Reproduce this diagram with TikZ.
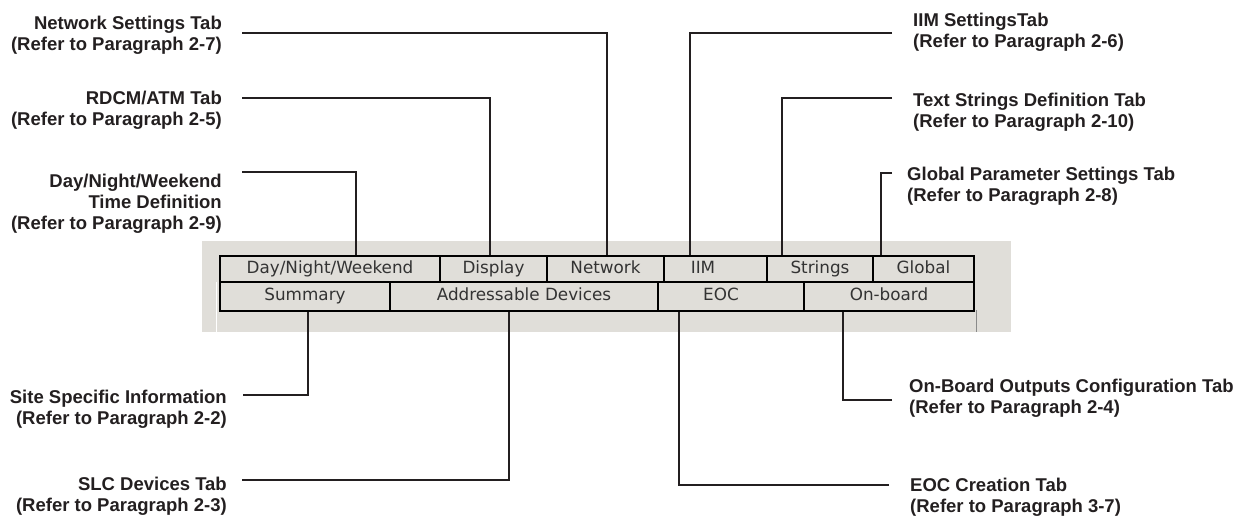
\documentclass[tikz,border=0pt]{standalone}
\usepackage{fontspec}
\setmainfont{Liberation Sans}
\newfontfamily\tabfont{DejaVu Sans}
\usetikzlibrary{calc}
\definecolor{panelgray}{HTML}{E0DED9}
\definecolor{tabtext}{HTML}{333333}
\definecolor{labeltext}{HTML}{231F20}
\definecolor{linecol}{HTML}{231F20}
\definecolor{edgegray}{HTML}{8A8A8A}
\begin{document}
\begin{tikzpicture}[x=1pt,y=-1pt,
  lbl/.style={font=\bfseries\fontsize{18.5}{21}\selectfont, text=labeltext, inner sep=0pt},
  lbll/.style={lbl, align=right, anchor=east},
  lblr/.style={lbl, align=left, anchor=west},
  tabbox/.style={draw=black, line width=2pt, fill=panelgray, text=tabtext,
    font=\tabfont\fontsize{16.8}{20}\selectfont, inner sep=0pt, anchor=north west,
    text height=12.5pt, text depth=3.5pt},
  conn/.style={line width=2pt, draw=linecol}]
\useasboundingbox (0,0) rectangle (1246,518);
% panel
\fill[panelgray] (202,241) rectangle (1011,332);
\draw[white, line width=1pt] (216.5,282) -- (216.5,332);
\draw[edgegray, line width=1.2pt] (976.5,310) -- (976.5,332);
% top row tabs
\node[tabbox, minimum width=220pt, minimum height=26pt] (day) at (219,255) {Day/Night/Weekend};
\node[tabbox, minimum width=107pt, minimum height=26pt] (disp) at (439,255) {Display};
\node[tabbox, minimum width=117pt, minimum height=26pt] (net) at (546,255) {Network};
\node[tabbox, minimum width=103pt, minimum height=26pt] (iim) at (663,255) {IIM\hspace*{25pt}};
\node[tabbox, minimum width=106pt, minimum height=26pt] (str) at (766,255) {Strings};
\node[tabbox, minimum width=101pt, minimum height=26pt] (glob) at (872,255) {Global};
% bottom row tabs
\node[tabbox, minimum width=170pt, minimum height=29pt] (sum) at (219,281) {Summary};
\node[tabbox, minimum width=268pt, minimum height=29pt] (addr) at (389,281) {Addressable Devices};
\node[tabbox, minimum width=146pt, minimum height=29pt] (eoc) at (657,281) {EOC\hspace*{20pt}};
\node[tabbox, minimum width=170pt, minimum height=29pt] (onb) at (803,281) {On-board};
% labels left
\node[lbll] (netL) at (222,35) {Network Settings Tab\\(Refer to Paragraph 2-7)};
\node[lbll] (rdcmL) at (222,110) {RDCM/ATM Tab\\(Refer to Paragraph 2-5)};
\node[lbll] (dayL) at (222,204) {Day/Night/Weekend\\Time Definition\\(Refer to Paragraph 2-9)};
\node[lbll] (siteL) at (227,409) {Site Specific Information\\(Refer to Paragraph 2-2)};
\node[lbll] (slcL) at (227,496) {SLC Devices Tab\\(Refer to Paragraph 2-3)};
% labels right
\node[lblr] (iimL) at (913,32) {IIM SettingsTab\\(Refer to Paragraph 2-6)};
\node[lblr] (strL) at (913,112) {Text Strings Definition Tab\\(Refer to Paragraph 2-10)};
\node[lblr] (globL) at (907,186) {Global Parameter Settings Tab\\(Refer to Paragraph 2-8)};
\node[lblr] (onbL) at (909,398) {On-Board Outputs Configuration Tab\\(Refer to Paragraph 2-4)};
\node[lblr] (eocL) at (910,497.5) {EOC Creation Tab\\(Refer to Paragraph 3-7)};
% connector start points
\coordinate (pNet) at (242,33);
\coordinate (pRdcm) at (242,98);
\coordinate (pDay) at (242,172);
\coordinate (pSite) at (243,395);
\coordinate (pSlc) at (242,480);
\coordinate (pIim) at (892,33);
\coordinate (pStr) at (892,98);
\coordinate (pGlob) at (892,173);
\coordinate (pOnb) at (892,400);
\coordinate (pEoc) at (889,485);
% connectors
\draw[conn] (pNet) -| ($(net.north)+(1.5,0)$);
\draw[conn] (pRdcm) -| ($(disp.north)+(-3.5,0)$);
\draw[conn] (pDay) -| ($(day.north)+(26,0)$);
\draw[conn] (pIim) -| ($(iim.north)+(-25.5,0)$);
\draw[conn] (pStr) -| ($(str.north)+(-38,0)$);
\draw[conn] (pGlob) -| ($(glob.north)+(-42.5,0)$);
\draw[conn] (pSite) -| ($(sum.south)+(3,0)$);
\draw[conn] (pSlc) -| ($(addr.south)+(-15,0)$);
\draw[conn] (pEoc) -| ($(eoc.south)+(-52,0)$);
\draw[conn] (pOnb) -| ($(onb.south)+(-46,0)$);
\end{tikzpicture}
\end{document}
